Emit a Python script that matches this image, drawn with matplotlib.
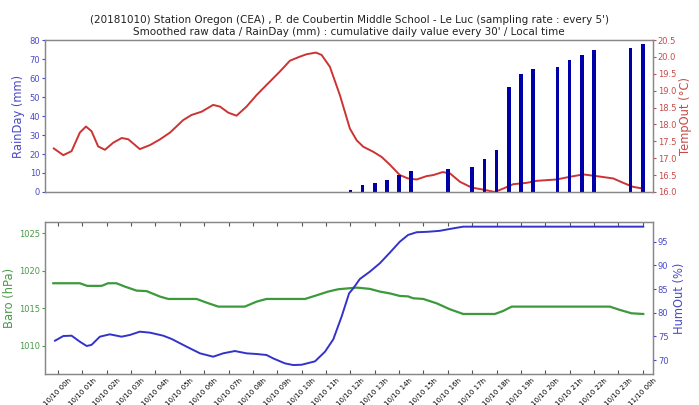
import matplotlib
matplotlib.use("Agg")
import matplotlib.pyplot as plt

# --- cumulative daily rain, sampled every 30 min (hour of day, mm) ---
rain_hours = [12.0, 12.5, 13.0, 13.5, 14.0, 14.5, 16.0, 17.0, 17.5, 18.0,
              18.5, 19.0, 19.5, 20.5, 21.0, 21.5, 22.0, 23.5, 24.0]
rain_mm = [1.2, 3.5, 4.7, 6.5, 8.7, 10.8, 12.1, 13.1, 17.4, 22.3,
           55.1, 62.3, 64.7, 65.6, 69.6, 71.9, 74.9, 75.9, 77.9]

# --- smoothed outdoor temperature (hour, degC) ---
temp_hours = [-0.17, 0.22, 0.56, 0.9, 1.15, 1.38, 1.65, 1.93, 2.27, 2.62,
              2.89, 3.36, 3.78, 4.19, 4.6, 5.14, 5.48, 5.9, 6.37, 6.65,
              6.99, 7.33, 7.74, 8.15, 8.56, 9.11, 9.52, 9.93, 10.2, 10.59,
              10.82, 11.16, 11.57, 11.98, 12.26, 12.53, 12.94, 13.28, 13.62, 14.03,
              14.37, 14.72, 15.13, 15.4, 15.79, 16.09, 16.5, 16.98, 17.45, 17.93,
              18.27, 18.68, 19.23, 19.64, 20.05, 20.46, 21.01, 21.56, 22.1, 22.79,
              23.2, 23.61, 24.02]
temp_c = [17.29, 17.09, 17.21, 17.76, 17.94, 17.80, 17.35, 17.25, 17.46, 17.60,
          17.56, 17.27, 17.39, 17.56, 17.76, 18.13, 18.28, 18.38, 18.58, 18.53,
          18.35, 18.26, 18.53, 18.87, 19.17, 19.57, 19.89, 20.01, 20.08, 20.13,
          20.06, 19.71, 18.87, 17.88, 17.53, 17.34, 17.19, 17.04, 16.81, 16.50,
          16.40, 16.37, 16.47, 16.50, 16.59, 16.55, 16.30, 16.13, 16.07, 16.00,
          16.10, 16.23, 16.27, 16.33, 16.35, 16.37, 16.45, 16.52, 16.47, 16.40,
          16.27, 16.15, 16.10]

# --- barometric pressure (hour, hPa) ---
baro_hours = [-0.19, 0.9, 1.2, 1.79, 2.06, 2.4, 2.75, 3.23, 3.64, 4.19,
              4.53, 5.69, 6.1, 6.58, 7.67, 8.15, 8.56, 10.14, 10.62, 11.09,
              11.5, 11.95, 12.26, 12.8, 13.21, 13.62, 14.03, 14.37, 14.58, 14.99,
              15.54, 16.09, 16.63, 17.93, 18.27, 18.62, 22.65, 23.06, 23.54, 24.02]
baro_hpa = [1018.35, 1018.35, 1018.0, 1018.0, 1018.35, 1018.35, 1017.9, 1017.37, 1017.3, 1016.57,
            1016.26, 1016.26, 1015.77, 1015.24, 1015.24, 1015.9, 1016.26, 1016.26, 1016.75, 1017.24,
            1017.55, 1017.68, 1017.77, 1017.6, 1017.24, 1017.0, 1016.66, 1016.6, 1016.35, 1016.26,
            1015.68, 1014.88, 1014.26, 1014.26, 1014.66, 1015.24, 1015.24, 1014.8, 1014.35, 1014.26]

# --- outdoor relative humidity (hour, %) ---
hum_hours = [-0.12, 0.22, 0.56, 0.9, 1.18, 1.38, 1.72, 2.13, 2.61, 2.95,
             3.36, 3.78, 4.32, 4.67, 5.28, 5.83, 6.37, 6.78, 7.26, 7.74,
             8.15, 8.56, 8.83, 9.31, 9.65, 10.0, 10.55, 10.96, 11.3, 11.64,
             11.95, 12.12, 12.39, 12.8, 13.21, 13.62, 14.03, 14.37, 14.72, 15.19,
             15.67, 16.09, 16.63, 24.02]
hum_pct = [74.08, 75.07, 75.14, 73.87, 72.96, 73.2, 74.93, 75.43, 74.93, 75.29,
           75.99, 75.78, 75.14, 74.44, 72.82, 71.41, 70.7, 71.41, 71.9, 71.41,
           71.27, 71.06, 70.35, 69.3, 68.94, 69.0, 69.72, 71.76, 74.37, 79.16,
           84.1, 85.15, 87.12, 88.67, 90.44, 92.68, 95.0, 96.43, 97.0, 97.1,
           97.3, 97.7, 98.18, 98.18]

# --- time axis ticks ---
tick_hours = list(range(25))
tick_labels = ["10/10 %02dh" % h for h in range(24)] + ["11/10 00h"]

title = ("(20181010) Station Oregon (CEA) , P. de Coubertin Middle School - Le Luc "
         "(sampling rate : every 5')\n"
         "Smoothed raw data / RainDay (mm) : cumulative daily value every 30' / Local time")

RAIN_C = "#0000a8"
TEMP_C = "#cc3333"
BARO_C = "#3c9a3c"
HUM_C = "#3333cc"
LBL_BLUE = "#4a4ac8"
LBL_RED = "#c84a4a"
LBL_GREEN = "#4a9a4a"
SPINE_C = "#888888"
TICK_FS = 6
LABEL_FS = 8.3

fig = plt.figure(figsize=(6.99, 4.05), dpi=100)
ax_top = fig.add_axes([0.0644, 0.526, 0.8698, 0.375])
ax_bot = fig.add_axes([0.0644, 0.0765, 0.8698, 0.3746])
ax_temp = ax_top.twinx()
ax_hum = ax_bot.twinx()

xlim = (-0.53, 24.42)

# top panel: rain bars + temperature curve
ax_top.bar(rain_hours, rain_mm, width=0.15, color=RAIN_C, zorder=2)
ax_temp.plot(temp_hours, temp_c, color=TEMP_C, lw=1.4)
ax_top.set_xlim(*xlim)
ax_top.set_ylim(0, 80)
ax_temp.set_ylim(16.0, 20.5)
ax_top.set_yticks(range(0, 81, 10))
ax_temp.set_yticks([16.0 + 0.5 * i for i in range(10)])
ax_temp.set_yticklabels(["%.1f" % (16.0 + 0.5 * i) for i in range(10)])
ax_top.set_xticks([])
ax_top.set_ylabel("RainDay (mm)", color=LBL_BLUE, fontsize=LABEL_FS, labelpad=3)
ax_temp.set_ylabel("TempOut (°C)", color=LBL_RED, fontsize=LABEL_FS, labelpad=2)
ax_top.tick_params(axis="y", colors=LBL_BLUE, labelsize=TICK_FS, length=2, pad=1.5)
ax_temp.tick_params(axis="y", colors=LBL_RED, labelsize=TICK_FS, length=2, pad=1.5)
ax_top.set_title(title, fontsize=7.5, color="#222222", pad=4, linespacing=1.2)

# bottom panel: pressure + humidity
ax_bot.plot(baro_hours, baro_hpa, color=BARO_C, lw=1.6)
ax_hum.plot(hum_hours, hum_pct, color=HUM_C, lw=1.4)
ax_bot.set_xlim(*xlim)
ax_bot.set_ylim(1006.27, 1026.46)
ax_hum.set_ylim(67.04, 99.1)
ax_bot.set_yticks([1010, 1015, 1020, 1025])
ax_hum.set_yticks([70, 75, 80, 85, 90, 95])
ax_bot.set_xticks(tick_hours)
ax_bot.set_xticklabels(tick_labels, rotation=45, ha="center", fontsize=5.0)
ax_bot.tick_params(axis="x", direction="in", top=True, length=3, pad=2.5, color="#555555")
ax_bot.set_ylabel("Baro (hPa)", color=LBL_GREEN, fontsize=LABEL_FS, labelpad=2)
ax_hum.set_ylabel("HumOut (%)", color=LBL_BLUE, fontsize=LABEL_FS, labelpad=3)
ax_bot.tick_params(axis="y", colors=LBL_GREEN, labelsize=TICK_FS, length=2, pad=1.5)
ax_hum.tick_params(axis="y", colors=LBL_BLUE, labelsize=TICK_FS, length=2, pad=1.5)

for a in (ax_top, ax_temp, ax_bot, ax_hum):
    for s in a.spines.values():
        s.set_color(SPINE_C)
        s.set_linewidth(0.9)
ax_top.set_zorder(ax_temp.get_zorder() + 1)
ax_top.patch.set_visible(False)

fig.savefig("out.png", dpi=100)
